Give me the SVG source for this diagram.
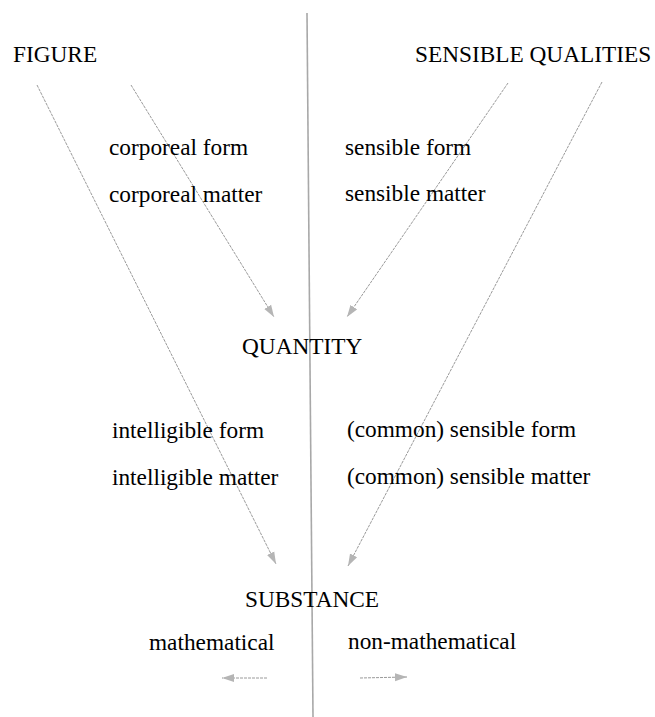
<svg xmlns="http://www.w3.org/2000/svg" width="655" height="717" viewBox="0 0 655 717">
<style>
text{font-family:"Liberation Serif","Times New Roman",serif;font-size:23.3px;fill:#000}
.c{stroke:#9a9a9a;stroke-width:1;fill:none;stroke-dasharray:3 1}
.v{stroke:#a8a8a8;stroke-width:1.6;fill:none}
</style>
<defs>
<marker id="ah" markerWidth="13" markerHeight="9" refX="12" refY="4.5" orient="auto" markerUnits="userSpaceOnUse">
<path d="M0,0.5 L12,4.5 L0,8.5 Z" fill="#b5b5b5"/>
</marker>
</defs>
<rect width="655" height="717" fill="#fff"/>
<g id="connectors">
<line class="v" x1="307" y1="13" x2="313" y2="717"/>
<line class="c" x1="37" y1="85" x2="276" y2="564" marker-end="url(#ah)"/>
<line class="c" x1="131" y1="85" x2="274" y2="317" marker-end="url(#ah)"/>
<line class="c" x1="508" y1="83" x2="347" y2="317" marker-end="url(#ah)"/>
<line class="c" x1="602" y1="82" x2="348" y2="566" marker-end="url(#ah)"/>
<line class="c" x1="267" y1="678" x2="222" y2="678" marker-end="url(#ah)"/>
<line class="c" x1="360" y1="678" x2="407" y2="677" marker-end="url(#ah)"/>
</g>
<g id="figure"><text x="13" y="62">FIGURE</text></g>
<g id="sensible-qualities"><text x="415" y="62">SENSIBLE QUALITIES</text></g>
<g id="corporeal"><text x="109" y="155">corporeal form</text><text x="109" y="202">corporeal matter</text></g>
<g id="sensible"><text x="345" y="155">sensible form</text><text x="345" y="201">sensible matter</text></g>
<g id="quantity"><text x="242" y="354">QUANTITY</text></g>
<g id="intelligible"><text x="112" y="438">intelligible form</text><text x="112" y="485">intelligible matter</text></g>
<g id="common-sensible"><text x="347" y="437">(common) sensible form</text><text x="347" y="484">(common) sensible matter</text></g>
<g id="substance"><text x="245" y="607">SUBSTANCE</text></g>
<g id="mathematical"><text x="149" y="650">mathematical</text></g>
<g id="non-mathematical"><text x="348" y="649">non-mathematical</text></g>
</svg>
